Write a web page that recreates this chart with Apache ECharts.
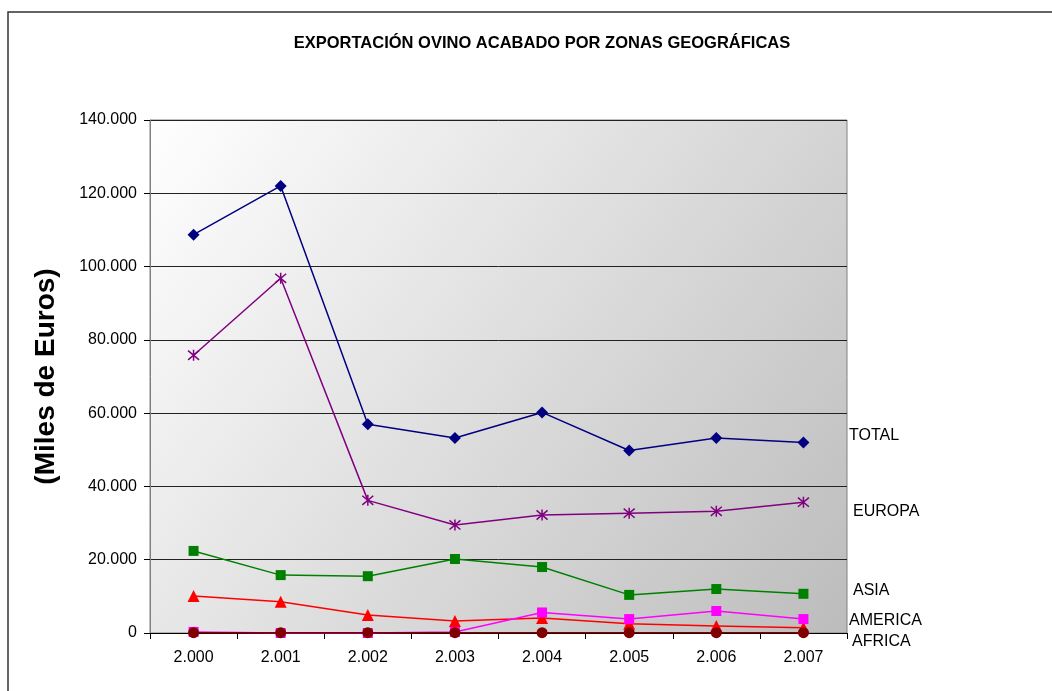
<!DOCTYPE html>
<html lang="es">
<head>
    <meta charset="UTF-8">
    <title>Exportación ovino acabado</title>
    <script src="https://cdn.jsdelivr.net/npm/echarts@6/dist/echarts.min.js"></script>
    <style>
        html, body { margin: 0; padding: 0; background: #fff; }
        #myChart { width: 1052px; height: 691px; }
    </style>
</head>
<body>
<div id="myChart"></div>
<script type="text/javascript">
    // datos (miles de euros)
    var years = ['2.000', '2.001', '2.002', '2.003', '2.004', '2.005', '2.006', '2.007'];
    var total = [108700, 122000, 57000, 53200, 60200, 49800, 53200, 52000];
    var europa = [75800, 96800, 36200, 29500, 32200, 32700, 33200, 35700];
    var asia = [22400, 15800, 15500, 20200, 18000, 10400, 12000, 10700];
    var america = [300, 0, 0, 300, 5600, 3800, 6000, 3800];
    var africa = [10100, 8500, 4900, 3300, 4100, 2500, 1900, 1400];
    var otros = [100, 100, 100, 100, 100, 100, 100, 100];
    var yTicks = [0, 20000, 40000, 60000, 80000, 100000, 120000, 140000];

    function fmt(v) {
        return String(v).replace(/\B(?=(\d{3})+(?!\d))/g, '.');
    }

    var asterisk = 'path://M0,0L10,10M10,0L0,10M5,-1L5,11';

    function serie(name, data, color, symbol, size, extra) {
        var s = {
            name: name,
            type: 'line',
            data: data,
            symbol: symbol,
            symbolSize: size,
            showAllSymbol: true,
            lineStyle: { color: color, width: 1.5 },
            itemStyle: { color: color },
            z: 3
        };
        if (extra) {
            for (var k in extra) s[k] = extra[k];
        }
        return s;
    }

    var myChart = echarts.init(document.getElementById('myChart'));
    var lblFont = { fontFamily: 'Liberation Sans, Arial', fontSize: 16, fill: '#000' };

    myChart.setOption({
        animation: false,
        backgroundColor: '#fff',
        textStyle: { fontFamily: 'Liberation Sans, Arial' },
        title: {
            text: 'EXPORTACIÓN OVINO ACABADO POR ZONAS GEOGRÁFICAS',
            left: 537,
            textAlign: 'center',
            top: 30,
            textStyle: { fontSize: 16.5, fontWeight: 'bold', color: '#000', fontFamily: 'Liberation Sans, Arial' }
        },
        grid: {
            left: 150, right: 205, top: 120, bottom: 58,
            show: true,
            borderColor: '#808080',
            borderWidth: 1,
            backgroundColor: {
                type: 'linear', x: 0, y: 0, x2: 1, y2: 1,
                colorStops: [{ offset: 0, color: '#ffffff' }, { offset: 1, color: '#bcbcbc' }]
            }
        },
        xAxis: {
            type: 'category',
            data: years,
            boundaryGap: true,
            axisLine: { lineStyle: { color: '#000', width: 1 } },
            axisTick: { show: true, length: 6, lineStyle: { color: '#000' } },
            axisLabel: { color: '#000', fontSize: 16, margin: 17 },
            splitLine: { show: false }
        },
        yAxis: {
            type: 'value',
            min: 0, max: 140000, interval: 20000,
            name: '(Miles de Euros)',
            nameLocation: 'middle',
            nameGap: 90,
            nameTextStyle: { fontSize: 28, fontWeight: 'bold', color: '#000' },
            axisLine: { show: true, lineStyle: { color: '#808080', width: 1 } },
            axisTick: { show: true, length: 6, lineStyle: { color: '#000' } },
            axisLabel: {
                color: '#000', fontSize: 16, margin: 13,
                formatter: function (v) { return yTicks.indexOf(v) >= 0 ? fmt(v) : ''; }
            },
            splitLine: { show: true, lineStyle: { color: '#222', width: 1 } }
        },
        series: [
            serie('AFRICA', africa, '#ff0000', 'triangle', 12),
            serie('AMERICA', america, '#ff00ff', 'rect', 10),
            serie('OTROS', otros, '#800000', 'circle', 11, { z: 4 }),
            serie('ASIA', asia, '#008000', 'rect', 10),
            serie('EUROPA', europa, '#800080', asterisk, 11, {
                itemStyle: { color: 'rgba(0,0,0,0)', borderColor: '#800080', borderWidth: 1.5 }
            }),
            serie('TOTAL', total, '#000080', 'diamond', 12)
        ],
        graphic: [
            { type: 'rect', shape: { x: 8, y: 12, width: 1200, height: 900 },
              style: { fill: 'none', stroke: '#333', lineWidth: 1.5 }, silent: true },
            { type: 'text', left: 849, top: 428, style: Object.assign({ text: 'TOTAL' }, lblFont) },
            { type: 'text', left: 853, top: 504, style: Object.assign({ text: 'EUROPA' }, lblFont) },
            { type: 'text', left: 853, top: 583, style: Object.assign({ text: 'ASIA' }, lblFont) },
            { type: 'text', left: 849, top: 613, style: Object.assign({ text: 'AMERICA' }, lblFont) },
            { type: 'text', left: 852, top: 634, style: Object.assign({ text: 'AFRICA' }, lblFont) }
        ]
    });
</script>
</body>
</html>
